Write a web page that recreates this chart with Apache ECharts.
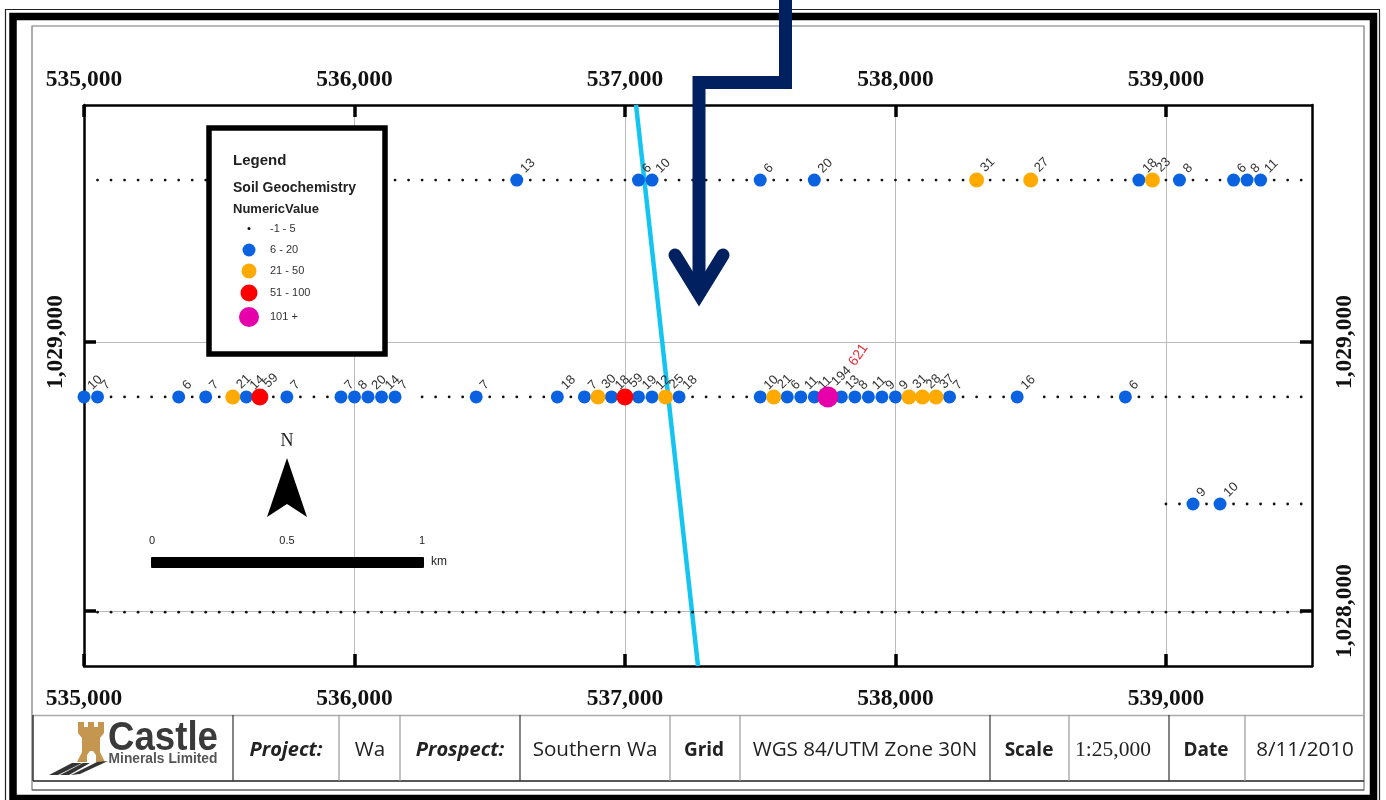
<!DOCTYPE html>
<html>
<head>
<meta charset="utf-8">
<script src="https://cdn.jsdelivr.net/npm/echarts@6/dist/echarts.min.js"></script>
<style>html,body{margin:0;padding:0;background:#fff}#c{width:1386px;height:800px}</style>
</head>
<body>
<div id="c"></div>
<script>
// Map extent and tick values
var eastingRange = [535000, 539540];
var northingRange = [1027796, 1029881];
var eastingTicks = [535000, 536000, 537000, 538000, 539000];
var northingTicks = [1028000, 1029000];
var leftNorthingLabels = [1029000];
var rightNorthingLabels = [1028000, 1029000];

// Sample line northings
var row1Y = 1029602, row2Y = 1028796, row3Y = 1028398, row4Y = 1027996;

// Assayed samples: [easting, value]
var row1Samples = [[536600,13],[537050,6],[537100,10],[537500,6],[537700,20],[538300,31],[538500,27],[538900,18],[538950,23],[539050,8],[539250,6],[539300,8],[539350,11]];
var row2Samples = [[535000,10],[535050,7],[535350,6],[535450,7],[535550,21],[535600,14],[535650,59],[535750,7],[535950,7],[536000,8],[536050,20],[536100,14],[536150,7],[536450,7],[536750,18],[536850,7],[536900,30],[536950,18],[537000,59],[537050,19],[537100,12],[537150,25],[537200,18],[537500,10],[537550,21],[537600,6],[537650,11],[537700,11],[537750,194],[537800,13],[537850,8],[537900,11],[537950,9],[538000,9],[538050,31],[538100,28],[538150,37],[538200,7],[538450,16],[538850,6]];
var row3Samples = [[539100,9],[539200,10]];

// Low-value samples (-1 - 5), unlabelled eastings
var row1Low = [535050,535100,535150,535200,535250,535300,535350,535400,535450,535500,535550,535600,535650,535700,535750,535800,535850,535900,535950,536000,536050,536100,536150,536200,536250,536300,536350,536400,536450,536500,536550,536650,536700,536750,536800,536850,536900,536950,537000,537150,537200,537250,537300,537350,537400,537450,537550,537600,537650,537750,537800,537850,537900,537950,538000,538050,538100,538150,538200,538250,538350,538400,538450,538550,538600,538650,538700,538750,538800,538850,539000,539100,539150,539200,539400,539450,539500];
var row2Low = [535100,535150,535200,535250,535300,535400,535500,535700,535800,535850,535900,536250,536300,536350,536400,536500,536550,536600,536650,536700,536800,537250,537300,537350,537400,537450,538250,538300,538350,538400,538550,538600,538650,538700,538750,538800,538900,538950,539000,539050,539100,539150,539200,539250,539300,539350,539400,539450,539500];
var row3Low = [539000,539050,539150,539250,539300,539350,539400,539450,539500];
var row4Low = [535050,535100,535150,535200,535250,535300,535350,535400,535450,535500,535550,535600,535650,535700,535750,535800,535850,535900,535950,536000,536050,536100,536150,536200,536250,536300,536350,536400,536450,536500,536550,536600,536650,536700,536750,536800,536850,536900,536950,537000,537050,537100,537150,537200,537250,537300,537350,537400,537450,537500,537550,537600,537650,537700,537750,537800,537850,537900,537950,538000,538050,538100,538150,538200,538250,538300,538350,538400,538450,538500,538550,538600,538650,538700,538750,538800,538850,538900,538950,539000,539050,539100,539150,539200,539250,539300,539350,539400,539450,539500];

// Highlighted assay annotation and the cyan feature line
var annotation = [[537750, 621]];
var featureLine = [[537041, 1029881], [537270, 1027796]];

// Classes: name, low bound, high bound, colour, marker size, legend centre y
var classNames = ['-1 - 5', '6 - 20', '21 - 50', '51 - 100', '101 +'];
var classMin = [-1, 6, 21, 51, 101];
var classMax = [5, 20, 50, 100, 100000];
var classColors = ['#111111', '#0a62e0', '#ffaa00', '#ff0000', '#e600a9'];
var classSizes = [2.8, 13, 15, 17, 21];
var legendSizes = [3, 13, 15, 17, 20];
var legendCentres = [229, 250, 271, 293, 317];

// Title block text
var cellLines = [233, 339, 400, 520, 670, 740, 990, 1069, 1169, 1245];
var darkLines = [233, 520, 990, 1169];
var titleCells = [
  ['Project:', 286, 'bi'], ['Wa', 370, 'n'], ['Prospect:', 460, 'bi'], ['Southern Wa', 595, 'n'],
  ['Grid', 704, 'b'], ['WGS 84/UTM Zone 30N', 865, 'n'], ['Scale', 1029, 'b'],
  ['1:25,000', 1113, 's'], ['Date', 1206, 'b'], ['8/11/2010', 1305, 'n']
];

function bucket(rows) {
  var out = classNames.map(function () { return []; });
  rows.forEach(function (r) {
    r.list.forEach(function (s) {
      for (var i = 1; i < classNames.length; i++) {
        if (s[1] >= classMin[i] && s[1] <= classMax[i]) out[i].push([s[0], r.y, s[1]]);
      }
    });
    r.low.forEach(function (x) { out[0].push([x, r.y]); });
  });
  return out;
}
var buckets = bucket([
  { y: row1Y, list: row1Samples, low: row1Low },
  { y: row2Y, list: row2Samples, low: row2Low },
  { y: row3Y, list: row3Samples, low: row3Low },
  { y: row4Y, list: [], low: row4Low }
]);

var ink = '#111';
var labelFont = 'Arial, "Liberation Sans", sans-serif';
var serif = '"Liberation Serif", "Times New Roman", serif';
var numFmt = function (v) { return String(v).replace(/\B(?=(\d{3})+$)/g, ','); };

var series = [{
  name: 'Feature', type: 'line', data: featureLine, symbol: 'none', z: 2, silent: true,
  lineStyle: { color: '#14c5f2', width: 4.5 }, animation: false
}];
classNames.forEach(function (n, i) {
  series.push({
    name: n, type: 'scatter', data: buckets[i], symbol: 'circle', symbolSize: classSizes[i], z: 3 + i,
    itemStyle: { color: classColors[i], opacity: 1 }, animation: false,
    label: i === 0 ? { show: false } : {
      show: true, position: 'top', distance: -2, rotate: 45, align: 'left', verticalAlign: 'middle',
      offset: [7.5, 1], color: '#333', fontSize: 13, fontFamily: labelFont,
      formatter: function (p) { return p.value[2]; }
    }
  });
});
series.push({
  name: 'Highlight', type: 'scatter', symbol: 'circle', symbolSize: 2, z: 9, animation: false,
  itemStyle: { color: 'rgba(0,0,0,0)' },
  data: annotation.map(function (a) { return [a[0], row2Y, a[1]]; }),
  label: {
    show: true, position: 'inside', rotate: 55, offset: [52, 1], color: '#e8303a', fontSize: 14, opacity: 1,
    fontFamily: labelFont, formatter: function (p) { return p.value[2]; }
  }
});

// Graphic decoration
var G = [];
function rect(x, y, w, h, o) { G.push(Object.assign({ type: 'rect', shape: { x: x, y: y, width: w, height: h }, style: o.style, z: o.z || 20 })); }
function line(x1, y1, x2, y2, c, w, z) { G.push({ type: 'line', shape: { x1: x1, y1: y1, x2: x2, y2: y2 }, style: { stroke: c, lineWidth: w }, z: z || 20 }); }
function text(t, x, y, font, fill, align, z, sx) {
  G.push({ type: 'text', x: x, y: y, z: z || 21, scaleX: sx || 1, style: { text: t, font: font, fill: fill, textAlign: align || 'center', textVerticalAlign: 'middle' } });
}
function poly(pts, fill, z) { G.push({ type: 'polygon', shape: { points: pts }, style: { fill: fill }, z: z || 21 }); }

// Frames
rect(5.5, 9.5, 1374, 800, { style: { fill: 'none', stroke: '#222', lineWidth: 1.2 } });
rect(13, 16.5, 1360.5, 782, { style: { fill: 'none', stroke: '#000', lineWidth: 7.5 } });
rect(32, 26, 1332, 764, { style: { fill: 'none', stroke: '#777', lineWidth: 1.2 } });

// Legend box
rect(209, 128, 176, 226, { z: 30, style: { fill: '#fff', stroke: '#000', lineWidth: 5.5 } });
text('Legend', 233, 161, 'bold 15px ' + labelFont, '#222', 'left', 31);
text('Soil Geochemistry', 233, 188, 'bold 14px ' + labelFont, '#222', 'left', 31);
text('NumericValue', 233, 209.5, 'bold 13px ' + labelFont, '#222', 'left', 31);

// North arrow and scale bar
text('N', 287, 441, '18px ' + serif, '#222', 'center', 21);
poly([[287, 458], [307, 517], [287, 504], [267, 517]], '#000');
text('0', 152, 541, '11px ' + labelFont, '#222');
text('0.5', 287, 541, '11px ' + labelFont, '#222');
text('1', 422, 541, '11px ' + labelFont, '#222');
G.push({ type: 'rect', shape: { x: 151, y: 557, width: 273, height: 11, r: 1 }, style: { fill: '#000' }, z: 21 });
text('km', 431, 562, '12px ' + labelFont, '#222', 'left');

// Navy pointer
G.push({ type: 'polyline', shape: { points: [[785.5, 0], [785.5, 82.5], [699, 82.5], [699, 296]] }, style: { fill: 'none', stroke: '#002060', lineWidth: 13, lineJoin: 'miter' }, z: 40 });
G.push({ type: 'polyline', shape: { points: [[675, 255], [699, 294], [723, 255]] }, style: { fill: 'none', stroke: '#002060', lineWidth: 13, lineCap: 'round', lineJoin: 'miter' }, z: 40 });

// Title block
G.push({ type: 'rect', shape: { x: 33, y: 715, width: 1331, height: 66 }, style: { fill: '#fff' }, z: 15 });
line(33, 715.5, 1364, 715.5, '#aaa', 1.5);
line(33, 781, 1364, 781, '#222', 1.5);
line(33, 715, 33, 781, '#333', 1.5);
line(32, 790, 1364, 790, '#555', 1);
cellLines.forEach(function (x) { line(x, 715, x, 781, darkLines.indexOf(x) >= 0 ? '#333' : '#999', 1.2); });
var cellFont = { bi: 'italic bold 20px "Open Sans", sans-serif', b: 'bold 19px "Open Sans", sans-serif', n: '20.6px "Open Sans", sans-serif', s: '21.5px ' + serif };
titleCells.forEach(function (c) { text(c[0], c[1], 750.5, cellFont[c[2]], '#222'); });

// Logo
poly([[78, 722], [84, 722], [84, 727], [88, 727], [88, 722], [94, 722], [94, 727], [98, 727], [98, 722], [104, 722], [104, 733], [100, 738], [100, 752], [105, 762], [96, 762], [96, 755], [93, 751], [90, 751], [87, 755], [87, 762], [77, 762], [82, 752], [82, 738], [78, 733]], '#c49650', 21);
poly([[49, 775], [58, 775], [82, 763], [72, 763]], '#333', 21);
poly([[60, 775], [69, 775], [90, 763], [83, 763]], '#333', 21);
poly([[71, 775], [80, 774], [108, 761], [97, 762]], '#333', 21);
text('Castle', 163, 739, 'bold 40px "Liberation Sans", sans-serif', '#3a3a3a', 'center', 21, 0.915);
text('Minerals Limited', 163, 759, 'bold 15px "Liberation Sans", sans-serif', '#555', 'center', 21, 0.92);

var axisLineStyle = { show: true, onZero: false, lineStyle: { color: '#000', width: 2.5 } };
var tickStyle = { show: true, inside: true, length: 12, lineStyle: { color: '#000', width: 3.5 } };
var splitStyle = { show: true, lineStyle: { color: '#bbb', width: 1 } };
var axisFont = { color: ink, fontFamily: serif, fontWeight: 'bold', fontSize: 23.5 };

function xAxis(pos, margin) {
  return {
    type: 'value', position: pos, min: eastingRange[0], max: eastingRange[1], interval: 1000,
    axisLine: axisLineStyle, axisTick: Object.assign({ customValues: eastingTicks }, tickStyle),
    splitLine: pos === 'bottom' ? splitStyle : { show: false },
    axisLabel: Object.assign({ customValues: eastingTicks, margin: margin, formatter: numFmt, hideOverlap: false, showMinLabel: true }, axisFont)
  };
}
function yAxis(pos, labels, margin) {
  return {
    type: 'value', position: pos, min: northingRange[0], max: northingRange[1], interval: 1000,
    axisLine: axisLineStyle, axisTick: Object.assign({ customValues: northingTicks }, tickStyle),
    splitLine: pos === 'left' ? splitStyle : { show: false },
    axisLabel: Object.assign({ customValues: labels, rotate: 90, margin: margin, formatter: numFmt }, axisFont)
  };
}

var legends = classNames.map(function (n, i) {
  var h = Math.max(legendSizes[i], 12);
  return {
    data: [n], left: 249 - legendSizes[i] / 2, top: legendCentres[i] - h / 2, itemWidth: 32, itemHeight: legendSizes[i], padding: 0,
    icon: 'circle', selectedMode: false, z: 32,
    textStyle: { color: '#333', fontSize: 11, fontFamily: labelFont }
  };
});

var chart = echarts.init(document.getElementById('c'));
chart.setOption({
  animation: false,
  backgroundColor: '#fff',
  grid: { left: 84, right: 74, top: 105, bottom: 134, containLabel: false },
  xAxis: [xAxis('bottom', 21), xAxis('top', 13)],
  yAxis: [yAxis('left', leftNorthingLabels, 16), yAxis('right', rightNorthingLabels, 21)],
  legend: legends,
  series: series,
  graphic: { elements: G }
});
</script>
</body>
</html>
